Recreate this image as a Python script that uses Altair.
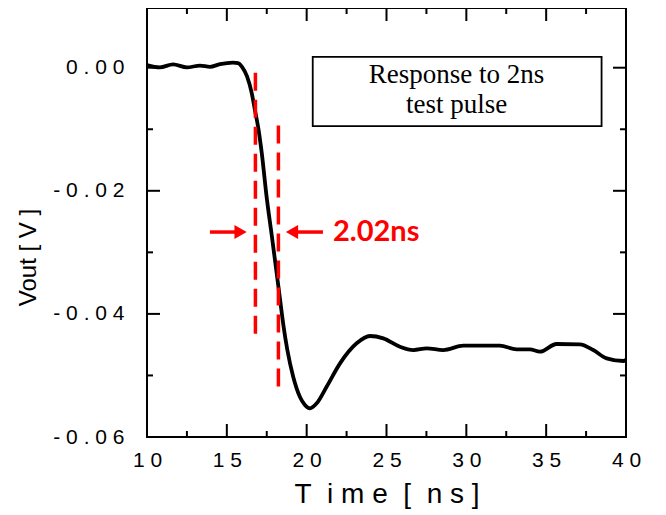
import altair as alt
import pandas as pd

NB = "\u00a0"
MINUS = "\u2212"

# waveform (time in ns, Vout in V)
t_ns = [10.00, 10.81, 11.63, 12.50, 13.32, 13.94, 14.57, 15.38, 15.70, 15.95, 16.26, 16.56,
        16.76, 16.97, 17.18, 17.50, 17.81, 18.08, 18.33, 18.54, 18.79, 19.16, 19.58, 19.89,
        20.21, 20.63, 21.25, 22.09, 23.13, 23.96, 24.80, 25.84, 26.68, 27.52, 28.55, 29.81,
        32.10, 33.15, 33.98, 34.61, 35.65, 37.11, 37.95, 38.79, 39.83, 40.00]
vout = [0.00042, 0.00005, 0.00054, 0.00005, 0.00034, 0.00015, 0.00058, 0.00083, 0.00075, 0.00015,
        -0.00136, -0.00413, -0.00689, -0.00981, -0.01371, -0.02118, -0.02719, -0.03255, -0.03759,
        -0.04181, -0.04587, -0.05025, -0.05350, -0.05480, -0.05534, -0.05452, -0.05183, -0.04803,
        -0.04478, -0.04359, -0.04397, -0.04533, -0.04587, -0.04559, -0.04587, -0.04517, -0.04517,
        -0.04575, -0.04575, -0.04614, -0.04489, -0.04494, -0.04587, -0.04722, -0.04765, -0.04749]

# red dashed markers
mark_t = [16.79, 18.23]
mark_top = [-0.0008, -0.0094]
mark_bot = [-0.0442, -0.0528]

# arrows
arrow_y = -0.0267
arrow_tail = [13.94, 21.02]
arrow_head = [15.86, 19.08]
arrow_shape = ["triangle-right", "triangle-left"]
width_label = ["2.02ns"]
width_label_t = [21.65]

# annotation box
box_t = [20.38]
box_t2 = [38.47]
box_v = [0.00177]
box_v2 = [-0.00949]
box_lines = ["Response to 2ns", "test pulse"]
box_line_t = [29.39, 29.39]
box_line_v = [-0.00255, -0.00733]

x_major = [10, 15, 20, 25, 30, 35, 40]
x_minor = [12.5, 17.5, 22.5, 27.5, 32.5, 37.5]
y_major = [-0.06, -0.04, -0.02, 0.0]
y_minor = [-0.05, -0.03, -0.01]

W, H = 479, 429
MAJ, MIN = 13, 6

xs = alt.Scale(domain=[10, 40], nice=False, zero=False)
ys = alt.Scale(domain=[-0.06, 0.0097], nice=False, zero=False)

x_title = ("T" + NB * 2 + "i" + NB + "m" + NB + "e" + NB * 2 + "[" + NB * 2 + "n" + NB + "s" + NB + "]")

ax_x = alt.Axis(values=x_major, ticks=False, domain=False, grid=False, labelFlush=False,
                labelExpr="join(split(datum.label, ''), '" + NB + "') + '" + NB + "'",
                labelFontSize=21, labelPadding=12, labelFont="Liberation Sans",
                labelColor="black",
                title=x_title,
                titleFont="Liberation Sans", titleFontSize=28, titleFontWeight="normal",
                titleColor="black", titleY=65, titleBaseline="alphabetic")
ax_y = alt.Axis(values=y_major, ticks=False, domain=False, grid=False, format=".2f",
                labelExpr="join(split(replace(datum.label, '" + MINUS + "', '-'), ''), '" + NB + "')",
                labelFontSize=21, labelPadding=23, labelFont="Liberation Sans",
                labelColor="black",
                title="Vout" + NB + "[" + NB + "V" + NB + "]",
                titleFont="Liberation Sans", titleFontSize=24, titleFontWeight="normal",
                titleColor="black", titleX=-112, titleY=249, titleBaseline="alphabetic")


def X(f):
    return alt.X(f, type="quantitative", scale=xs, axis=ax_x)


def Y(f):
    return alt.Y(f, type="quantitative", scale=ys, axis=ax_y)


curve_df = pd.DataFrame({"t": t_ns, "v": vout})
curve = alt.Chart(curve_df).mark_line(color="black", strokeWidth=3.8, interpolate="monotone").encode(
    x=X("t"), y=Y("v"))

mk_df = pd.DataFrame({"t": mark_t, "a": mark_top, "b": mark_bot})
markers = alt.Chart(mk_df).mark_rule(color="#ff0000", strokeWidth=3.5, strokeDash=[18, 9]).encode(
    x=X("t"), y=Y("a"), y2="b:Q")

ar_df = pd.DataFrame({"t": arrow_tail, "t2": arrow_head, "v": [arrow_y] * 2, "shape": arrow_shape})
shafts = alt.Chart(ar_df).mark_rule(color="#ff0000", strokeWidth=3.5).encode(
    x=X("t"), x2="t2:Q", y=Y("v"))
heads = alt.Chart(ar_df).mark_point(filled=True, color="#ff0000", opacity=1, size=200).encode(
    x=X("t2"), y=Y("v"),
    shape=alt.Shape("shape:N", scale=None, legend=None))

lbl_df = pd.DataFrame({"t": width_label_t, "v": [arrow_y], "s": width_label})
lbl = alt.Chart(lbl_df).mark_text(color="#ff0000", font="Lato", fontWeight="bold", fontSize=29,
                                  align="left", baseline="middle").encode(
    x=X("t"), y=Y("v"), text="s:N")

box_df = pd.DataFrame({"t": box_t, "t2": box_t2, "v": box_v, "v2": box_v2})
box = alt.Chart(box_df).mark_rect(fill="white", stroke="black", strokeWidth=1.8).encode(
    x=X("t"), x2="t2:Q", y=Y("v"), y2="v2:Q")

bt_df = pd.DataFrame({"t": box_line_t, "v": box_line_v, "s": box_lines})
btext = alt.Chart(bt_df).mark_text(font="Liberation Serif", fontSize=27, color="black",
                                   align="center", baseline="alphabetic").encode(
    x=X("t"), y=Y("v"), text="s:N")


def xticks(vals, length, top):
    df = pd.DataFrame({"t": vals})
    if top:
        yv, y2v = alt.value(0), alt.value(length)
    else:
        yv, y2v = alt.value(H), alt.value(H - length)
    return alt.Chart(df).mark_rule(color="black", strokeWidth=2).encode(
        x=X("t"), y=yv, y2=y2v)


def yticks(vals, length, right):
    df = pd.DataFrame({"v": vals})
    if right:
        xv, x2v = alt.value(W), alt.value(W - length)
    else:
        xv, x2v = alt.value(0), alt.value(length)
    return alt.Chart(df).mark_rule(color="black", strokeWidth=2).encode(
        y=Y("v"), x=xv, x2=x2v)


ticks = [xticks(x_major, MAJ, False), xticks(x_minor, MIN, False),
         xticks(x_major, MAJ, True), xticks(x_minor, MIN, True),
         yticks(y_major, MAJ, False), yticks(y_minor, MIN, False),
         yticks(y_major, MAJ, True), yticks(y_minor, MIN, True)]

chart = alt.layer(curve, markers, shafts, heads, lbl, box, btext, *ticks).properties(
    width=W, height=H,
    background="white",
    autosize=alt.AutoSizeParams(type="none"),
    padding={"left": 139, "top": 0, "right": 28, "bottom": 72},
).configure_view(stroke="black", strokeWidth=2)

chart.save("out.html", embed_options={"renderer": "svg", "actions": False})
